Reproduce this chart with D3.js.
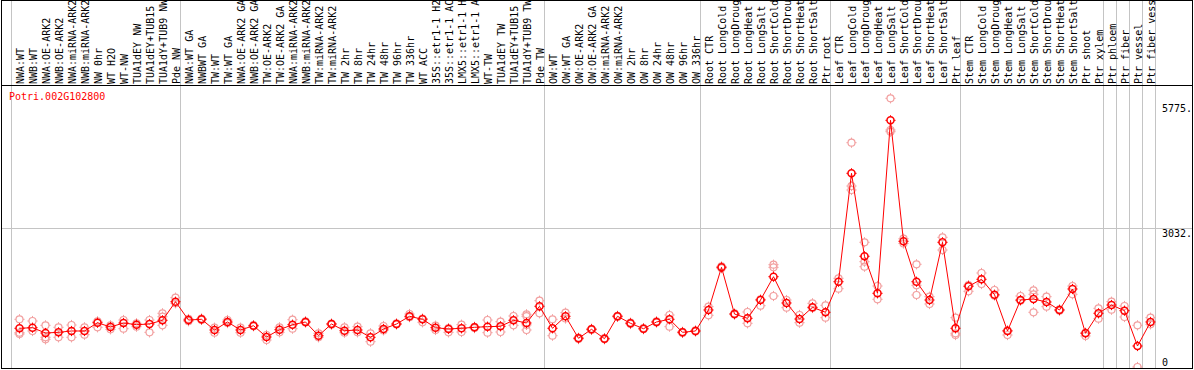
<!DOCTYPE html>
<html>
<head>
<meta charset="utf-8">
<script src="https://cdn.jsdelivr.net/npm/d3@7"></script>
<style>
  html, body { margin: 0; padding: 0; background: #fff; }
  svg { display: block; }
  text { font-family: "DejaVu Sans Mono", "Liberation Mono", monospace; font-size: 10px; }
</style>
</head>
<body>
<svg id="chart" width="1194" height="370"></svg>
<script>
const geneId = "Potri.002G102800";

// labels as they are visible in the chart (the label strip shows at most 14 characters)
const categories = [
  "NWA:WT","NWB:WT","NWA:OE-ARK2","NWB:OE-ARK2","NWA:miRNA-ARK2","NWB:miRNA-ARK2","NW 0hr","WT H2O","WT-NW","TUA1dEY NW","TUA1dEY+TUB15","TUA1dY+TUB9 NW","Pde NW",
  "NWA:WT GA","NWBWT GA","TW:WT","TW:WT GA","NWA:OE-ARK2 GA","NWB:OE-ARK2 GA","TW:OE-ARK2","TW:OE-ARK2 GA","NWA:miRNA-ARK2","NWB:miRNA-ARK2","TW:miRNA-ARK2","TW:miRNA-ARK2","TW 2hr","TW 8hr","TW 24hr","TW 48hr","TW 96hr","TW 336hr","WT ACC","35S::etr1-1 H2","35S::etr1-1 AC","LMX5::etr1-1 H","LMX5::etr1-1 A","WT-TW","TUA1dEY TW","TUA1dEY+TUB15","TUA1dY+TUB9 TW","Pde TW",
  "OW:WT","OW:WT GA","OW:OE-ARK2","OW:OE-ARK2 GA","OW:miRNA-ARK2","OW:miRNA-ARK2","OW 2hr","OW 8hr","OW 24hr","OW 48hr","OW 96hr","OW 336hr",
  "Root CTR","Root LongCold","Root LongDroug","Root LongHeat","Root LongSalt","Root ShortCold","Root ShortDrou","Root ShortHeat","Root ShortSalt","Ptr root",
  "Leaf CTR","Leaf LongCold","Leaf LongDroug","Leaf LongHeat","Leaf LongSalt","Leaf ShortCold","Leaf ShortDrou","Leaf ShortHeat","Leaf ShortSalt","Ptr leaf",
  "Stem CTR","Stem LongCold","Stem LongDroug","Stem LongHeat","Stem LongSalt","Stem ShortCold","Stem ShortDrou","Stem ShortHeat","Stem ShortSalt","Ptr shoot","Ptr xylem",
  "Ptr phloem","Ptr fiber","Ptr vessel","Ptr fiber vess"
];

// indices where a grey separator line is drawn (column boundaries)
const groupBreaks = [0, 13, 41, 53, 63, 73, 84, 85, 86, 87, 88];

const meanValues = [
  846, 859, 743, 758, 787, 787, 968, 874, 962, 925, 940, 1021, 1427,
  1027, 1043, 809, 984, 809, 903, 656, 815, 925, 984, 684, 940, 793, 809, 649, 831, 940, 1108, 1043, 859, 831, 846, 868, 881, 890, 1021, 962, 1327,
  846, 1108, 627, 824, 619, 1108, 955, 837, 984, 1043, 758, 787,
  1246, 2179, 1158, 1064, 1464, 1974, 1399, 1049, 1305, 1196,
  1864, 4234, 2420, 1611, 5392, 2748, 1864, 1464, 2726, 846,
  1764, 1917, 1580, 787, 1464, 1486, 1421, 1246, 1705, 737, 1174,
  1355, 1231, 459, 984
];

const replicateValues = [
  [1043, 750, 721], [1005, 787], [911, 649, 605], [868, 649], [918, 649], [868, 706], [999, 868], [911, 824], [1027, 837], [955, 881], [1027, 758], [1174, 1099, 911], [1515, 1392],
  [1000, 1050], [1030, 1060], [859, 750], [1027, 960], [859, 750], [890, 915], [699, 590], [868, 758], [1034, 837], [970, 1000], [737, 649], [925, 950], [868, 750], [881, 758], [737, 553], [896, 800], [930, 955],
  [1158, 1090], [977, 1060], [903, 809], [758, 850], [925, 765], [850, 880], [1027, 750], [990, 765], [1115, 911], [1152, 1110, 920, 809], [1449, 1174],
  [1043, 684], [1187, 1060], [610, 640], [810, 835], [605, 630], [1095, 1120], [940, 970], [825, 850], [970, 1000], [1137, 881], [745, 770], [775, 800],
  [1318, 1130], [2160, 2200], [1145, 1170], [1202, 955], [1340, 1480], [2236, 2179, 1552], [1464, 1296], [1137, 968], [1392, 1290], [1349, 1078],
  [1939, 1711], [4903, 3956, 3869], [2726, 2302, 2192], [1770, 1480], [5873, 5180, 5143], [2804, 2700], [2245, 1786, 1574], [1537, 1377], [2835, 2557], [1078, 737, 699],
  [1655, 1790], [2055, 1814], [1683, 1560], [699, 800], [1552, 1450], [1677, 1589, 1196], [1537, 1318], [1230, 1260], [1770, 1589], [678, 750], [1283, 1056],
  [1427, 1252], [1333, 1093], [911, 0], [1078, 933]
];

const yTicks = [0, 3032, 5775];
const yTickLabels = ["0", "3032.", "5775."];

const W = 1194, H = 370;
const svg = d3.select("#chart");

const x = d3.scaleBand().domain(d3.range(categories.length)).range([11.5, 11.5 + 13 * categories.length]).padding(0);
const px = i => x(i) + 8;
const y = d3.scaleLinear().domain([0, 5775]).range([367, 102.8]);

const grey = "#c4c4c4";
const red = "#ff0000";
const pink = "#f2a0a0";

// vertical separators
svg.append("g").selectAll("line").data(groupBreaks).join("line")
  .attr("x1", d => d < categories.length ? x(d) : x.range()[1])
  .attr("x2", d => d < categories.length ? x(d) : x.range()[1])
  .attr("y1", 0).attr("y2", 368)
  .attr("stroke", grey).attr("stroke-width", 1);

// horizontal grid at middle tick
svg.append("g").selectAll("line").data(yTicks.filter(v => v === 3032)).join("line")
  .attr("x1", 1).attr("x2", 1193)
  .attr("y1", d => Math.round(y(d)) + 0.5).attr("y2", d => Math.round(y(d)) + 0.5)
  .attr("stroke", grey).attr("stroke-width", 1);

// category labels (rotated)
svg.append("g").selectAll("text").data(categories).join("text")
  .attr("transform", (d, i) => `translate(${px(i) + 4},84) rotate(-90)`)
  .attr("fill", "#000")
  .text(d => d);

// frame
svg.append("rect").attr("x", 1.5).attr("y", 0.5).attr("width", 1191).attr("height", 368)
  .attr("fill", "none").attr("stroke", "#000").attr("stroke-width", 1);
svg.append("line").attr("x1", 1).attr("x2", 1193).attr("y1", 85.5).attr("y2", 85.5)
  .attr("stroke", "#000").attr("stroke-width", 1);

// gene id
svg.append("text").attr("x", 9).attr("y", 100).attr("fill", red).text(geneId);

// y tick labels
svg.append("g").selectAll("text").data(yTicks).join("text")
  .attr("x", 1162)
  .attr("y", d => Math.min(y(d) + 9, 365.5))
  .attr("fill", "#000")
  .text((d, i) => yTickLabels[i]);

function marker(g, cx, cy, color, sw) {
  const r = 3.5, t = 1.6;
  g.append("circle").attr("cx", cx).attr("cy", cy).attr("r", r)
    .attr("fill", "none").attr("stroke", color).attr("stroke-width", sw);
  [[0, -1], [0, 1], [-1, 0], [1, 0]].forEach(([dx, dy]) => {
    g.append("line")
      .attr("x1", cx + dx * r).attr("y1", cy + dy * r)
      .attr("x2", cx + dx * (r + t)).attr("y2", cy + dy * (r + t))
      .attr("stroke", color).attr("stroke-width", 1);
  });
}

const plot = svg.append("g");
// replicates
const repG = plot.append("g");
replicateValues.forEach((reps, i) => {
  reps.forEach(v => marker(repG, px(i), y(v), pink, 1.2));
});

// mean line
plot.append("path")
  .datum(meanValues)
  .attr("d", d3.line().x((d, i) => px(i)).y(d => y(d)))
  .attr("fill", "none").attr("stroke", red).attr("stroke-width", 1);

// mean markers
const meanG = plot.append("g");
meanValues.forEach((v, i) => marker(meanG, px(i), y(v), red, 1.5));

// re-draw bottom border on top (clips lowest replicate)
svg.append("line").attr("x1", 1).attr("x2", 1193).attr("y1", 368.5).attr("y2", 368.5)
  .attr("stroke", "#000").attr("stroke-width", 1);
svg.append("rect").attr("x", 0).attr("y", 369).attr("width", W).attr("height", 1).attr("fill", "#fff");
</script>
</body>
</html>
